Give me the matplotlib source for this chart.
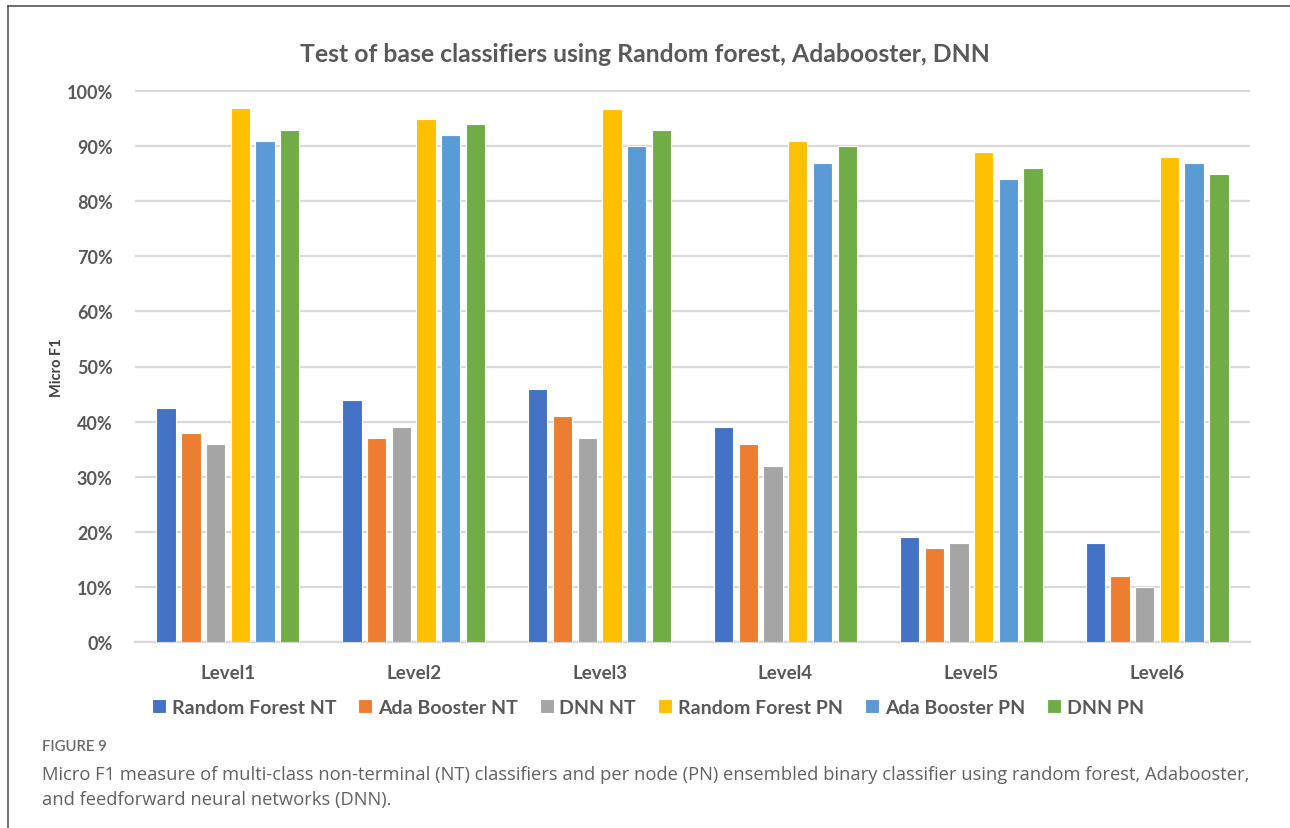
import numpy as np
import matplotlib.pyplot as plt
from matplotlib.lines import Line2D
from matplotlib.ticker import PercentFormatter

levels = ['Level1', 'Level2', 'Level3', 'Level4', 'Level5', 'Level6']
series = ['Random Forest NT', 'Ada Booster NT', 'DNN NT',
          'Random Forest PN', 'Ada Booster PN', 'DNN PN']

rf_nt = [42.5, 44, 46, 39, 19, 18]
ada_nt = [38, 37, 41, 36, 17, 12]
dnn_nt = [36, 39, 37, 32, 18, 10]
rf_pn = [97, 95, 96.8, 91, 89, 88]
ada_pn = [91, 92, 90, 87, 84, 87]
dnn_pn = [93, 94, 93, 90, 86, 85]

colors = ['#4472C4', '#ED7D31', '#A5A5A5', '#FFC000', '#5B9BD5', '#70AD47']
txt = '#595959'

plt.rcParams['font.family'] = ['Lato', 'DejaVu Sans']

W, H = 1290, 829
fig = plt.figure(figsize=(W / 100, H / 100), dpi=100)

# plot area in pixels: x 135..1250, 0% at y=643, 100% at y=92
top = 1.02
px_per_unit = 643 - 92
ax = fig.add_axes([135 / W, 1 - 643 / H, 1115 / W, px_per_unit * top / H])

x = np.arange(len(levels))
step, width = 0.133, 0.104
for i, (name, vals) in enumerate(zip(series, [rf_nt, ada_nt, dnn_nt, rf_pn, ada_pn, dnn_pn])):
    ax.bar(x + (i - 2.5) * step, np.array(vals) / 100, width, color=colors[i],
           edgecolor='white', linewidth=0.8, label=name, zorder=3)

ax.set_xlim(-0.5, len(levels) - 0.5)
ax.set_ylim(0, top)
ax.set_yticks(np.arange(0, 1.01, 0.1))
ax.yaxis.set_major_formatter(PercentFormatter(1.0, decimals=0))
ax.grid(axis='y', color='#D9D9D9', linewidth=1.6, zorder=0)
for s in ['top', 'right', 'left']:
    ax.spines[s].set_visible(False)
ax.spines['bottom'].set_color('#D9D9D9')
ax.spines['bottom'].set_linewidth(1.6)
ax.tick_params(axis='both', length=0, colors=txt)
ax.tick_params(axis='y', pad=16, labelsize=13)
ax.tick_params(axis='x', pad=16, labelsize=13.5)
for lab in ax.get_xticklabels() + ax.get_yticklabels():
    lab.set_fontweight('bold')
ax.set_xticks(x)
ax.set_xticklabels(levels, fontweight='bold')

fig.text(57 / W, 1 - 368 / H, 'Micro F1', rotation=90, ha='center', va='center',
         fontsize=10.5, fontweight='bold', color='#404040')

fig.text(645 / W, 1 - 55 / H, 'Test of base classifiers using Random forest, Adabooster, DNN',
         ha='center', va='center', fontsize=17.8, fontweight='bold', color=txt)

leg = fig.legend(loc='center', bbox_to_anchor=(648 / W, 1 - 708 / H), ncol=6,
                 frameon=False, handlelength=0.7, handleheight=0.7,
                 handletextpad=0.3, columnspacing=1.15,
                 prop={'weight': 'bold', 'size': 14})
for t in leg.get_texts():
    t.set_color(txt)

cap_font = ['Open Sans', 'DejaVu Sans']
fig.text(42 / W, 1 - 747 / H, 'FIGURE 9', ha='left', va='center',
         fontsize=10.7, fontweight='semibold', color='#6b6b6b')
fig.text(42 / W, 1 - 775 / H,
         'Micro F1 measure of multi-class non-terminal (NT) classifiers and per node (PN) '
         'ensembled binary classifier using random forest, Adabooster,',
         ha='left', va='center', fontsize=13.2, family=cap_font, color='#626262')
fig.text(42 / W, 1 - 800 / H, 'and feedforward neural networks (DNN).',
         ha='left', va='center', fontsize=13.2, family=cap_font, color='#626262')

# frame lines on top and left
fig.add_artist(Line2D([8 / W, 1], [1 - 7 / H, 1 - 7 / H], color='#555555', linewidth=1.2))
fig.add_artist(Line2D([8 / W, 8 / W], [0, 1 - 7 / H], color='#555555', linewidth=1.2))

fig.savefig('out.png', dpi=100)
